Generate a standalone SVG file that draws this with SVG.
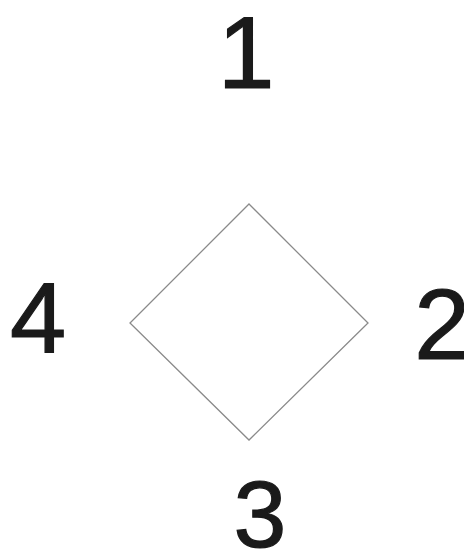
<svg xmlns="http://www.w3.org/2000/svg" width="464" height="552" viewBox="0 0 464 552">
<style>
.lbl{font-family:"Liberation Sans",Arial,sans-serif;fill:#1a1a1a;stroke:#1a1a1a;stroke-width:1.2;text-anchor:middle}
.shape{fill:#ffffff;stroke:#8a8a8a;stroke-width:1.3}
</style>
<rect width="464" height="552" fill="#ffffff"/>
<g id="diamond">
<polygon class="shape" points="249,204 368,323 249,440 130,323"/>
</g>
<g id="connectors"></g>
<g id="label1"><text class="lbl" x="246" y="88" font-size="102">1</text></g>
<g id="label2"><text class="lbl" x="442" y="359" font-size="100">2</text></g>
<g id="label3"><text class="lbl" x="260" y="547" font-size="95">3</text></g>
<g id="label4"><text class="lbl" x="38" y="353" font-size="101">4</text></g>
</svg>
